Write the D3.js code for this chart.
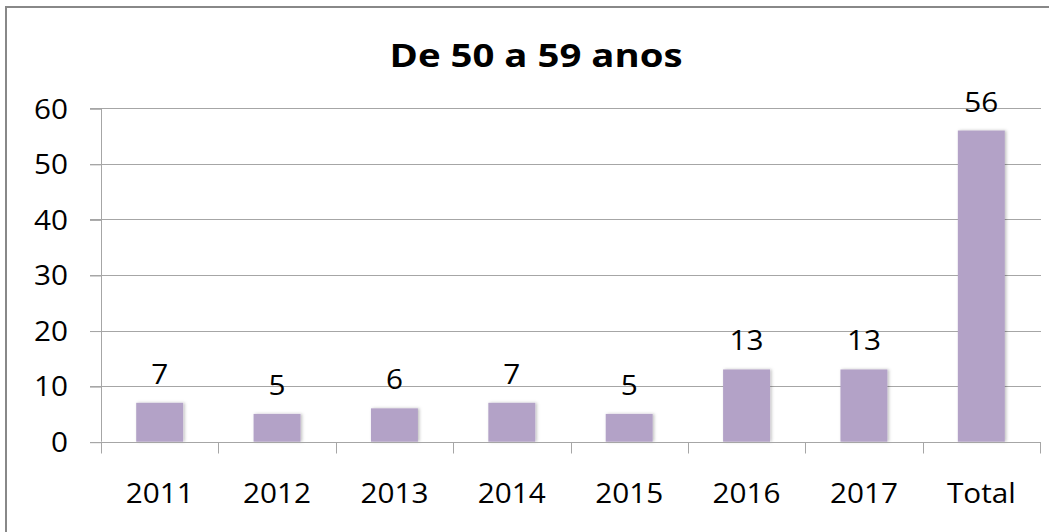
<!DOCTYPE html>
<html><head><meta charset="utf-8">
<script src="https://cdn.jsdelivr.net/npm/d3@7"></script>
<style>html,body{margin:0;padding:0;background:#fff;overflow:hidden}</style>
</head><body>
<svg id="c" width="1049" height="532"></svg>
<script>
const categories = ["2011","2012","2013","2014","2015","2016","2017","Total"];
const values = [7,5,6,7,5,13,13,56];
const yTicks = [0,10,20,30,40,50,60];
const title = "De 50 a 59 anos";

const svg = d3.select("#c");
const font = "'Open Sans', sans-serif";
svg.append("rect").attr("x",6).attr("y",7).attr("width",1100).attr("height",600)
  .attr("fill","#fff").attr("stroke","#888").attr("stroke-width",2);

const x = d3.scaleBand().domain(categories).range([101,1040]).paddingInner(0.6).paddingOuter(0.3);
const y = d3.scaleLinear().domain([0,60]).range([441.7,108.3]);

// measure a horizontal stretch so the text widths match the reference
const probe = svg.append("text").attr("font-family",font).attr("font-size",28).text("2011");
const sx = 68 / probe.node().getComputedTextLength();
probe.remove();
function stretch(sel, k){
  sel.each(function(){
    const t = d3.select(this);
    const px = +t.attr("x") || 0;
    t.attr("transform","translate("+px+",0) scale("+k+",1) translate("+(-px)+",0)");
  });
}

svg.append("g").selectAll("line").data(yTicks.filter(d=>d>0)).join("line")
  .attr("x1",90).attr("x2",1041).attr("y1",d=>Math.round(y(d))+0.5).attr("y2",d=>Math.round(y(d))+0.5)
  .attr("stroke","#a6a6a6").attr("stroke-width",1);

const defs = svg.append("defs");
const f = defs.append("filter").attr("id","sh").attr("x","-20%").attr("y","-20%").attr("width","140%").attr("height","140%");
f.append("feDropShadow").attr("dx",1.5).attr("dy",0).attr("stdDeviation",1.5).attr("flood-color","#000").attr("flood-opacity",0.25);
svg.append("g").selectAll("rect").data(values).join("rect")
  .attr("x",(d,i)=>x(categories[i])).attr("width",x.bandwidth())
  .attr("y",d=>y(d)).attr("height",d=>y(0)-y(d))
  .attr("fill","#b3a2c7").attr("filter","url(#sh)");

const ya = svg.append("g").attr("transform","translate(101,0)")
  .call(d3.axisLeft(y).tickValues(yTicks).tickSize(11).tickPadding(11));
ya.select(".domain").attr("stroke","#a6a6a6").attr("d","M0.5,"+y(60)+"V"+y(0));
ya.selectAll(".tick line").attr("stroke","#a6a6a6").attr("transform","translate(0,0.5)");
ya.selectAll("text").attr("font-family",font).attr("font-size",28).attr("fill","#000").attr("dy","0.35em").attr("x",-33)
  .call(stretch, sx);

const xa = svg.append("g").attr("transform","translate(0,"+(Math.round(y(0))+0.5)+")")
  .call(d3.axisBottom(x).tickSize(0).tickPadding(0));
xa.select(".domain").attr("stroke","#a6a6a6").attr("d","M90,0H1041");
xa.selectAll("text").attr("font-family",font).attr("font-size",28).attr("fill","#000").attr("dy",0).attr("y",61)
  .call(stretch, sx);
const seps = d3.range(categories.length+1).map(i=> i<categories.length ? x(categories[i]) - x.step()*x.paddingOuter() : 1040);
xa.append("g").selectAll("line").data(seps).join("line")
  .attr("x1",d=>Math.round(d)+0.5).attr("x2",d=>Math.round(d)+0.5).attr("y1",0).attr("y2",11)
  .attr("stroke","#a6a6a6");

svg.append("g").selectAll("text").data(values).join("text")
  .attr("x",(d,i)=>x(categories[i])+x.bandwidth()/2).attr("y",d=>y(d)-19)
  .attr("text-anchor","middle").attr("font-family",font).attr("font-size",28).attr("fill","#000")
  .text(d=>d).call(stretch, sx);

const tt = svg.append("text").attr("x",536).attr("y",67).attr("text-anchor","middle")
  .attr("font-family",font).attr("font-weight","bold").attr("font-size",33).text(title);
tt.call(stretch, 293 / tt.node().getComputedTextLength());
</script>
</body></html>
